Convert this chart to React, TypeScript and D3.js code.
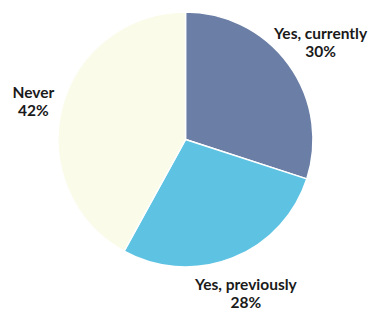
import React from "react"
import * as d3 from "d3"

const categories = ["Yes, currently", "Yes, previously", "Never"]
const values = [30, 28, 42]
const colors = ["#6b7ea6", "#5ec3e3", "#fafbe8"]
// distance of each label from the centre
const labelRadii = [167, 164, 157]

const width = 370
const height = 310
const cx = 185.5
const cy = 139.5
const radius = 127.5

type Row = { name: string; value: number }

export default function App() {
  const data: Row[] = categories.map((c, i) => ({ name: c, value: values[i] }))

  const pie = d3.pie<Row>()
    .value(d => d.value)
    .sort(null)

  const arc = d3.arc<d3.PieArcDatum<Row>>()
    .innerRadius(0)
    .outerRadius(radius)

  const arcs = pie(data)

  return (
    <svg width={width} height={height}
      style={{ position: "absolute", left: 0, top: 0, background: "#fff" }}>
      <g transform={`translate(${cx} ${cy})`}>
        {arcs.map((d, i) => (
          <path key={i} d={arc(d) || ""} fill={colors[i]}
            stroke="#fff" strokeWidth={1.5} />
        ))}
        {arcs.map((d, i) => {
          const labelArc = d3.arc<d3.PieArcDatum<Row>>()
            .innerRadius(labelRadii[i])
            .outerRadius(labelRadii[i])
          const [x, y] = labelArc.centroid(d)
          return (
            <text key={"t" + i} x={x} y={y} textAnchor="middle"
              fontFamily="Lato, sans-serif" fontWeight="bold" fontSize={15.5}
              fill="#1a1a1a">
              <tspan x={x} dy={-2}>{d.data.name}</tspan>
              <tspan x={x} dy={18}>{d.data.value}%</tspan>
            </text>
          )
        })}
      </g>
    </svg>
  )
}
